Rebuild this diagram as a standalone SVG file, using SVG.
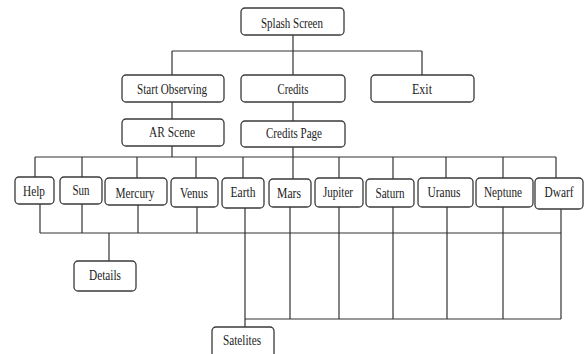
<svg xmlns="http://www.w3.org/2000/svg" width="584" height="354" viewBox="0 0 584 354">
<style>
.box{fill:#fff;stroke:#3a3a3a;stroke-width:1.3}
.lbl{font-family:"Liberation Serif","Times New Roman",serif;font-size:15px;fill:#222;text-anchor:middle}
.ln{fill:none;stroke:#333;stroke-width:1.2}
</style>
<rect width="584" height="354" fill="#fff"/>
<g id="connectors" class="ln">
<path d="M293 35V75M172 51H422M172 51V75M422 51V75"/>
<path d="M172 102V119M293 102V179M172 146V157M35 157H556"/>
<path d="M35 157V177M82 157V177M137 157V178M196 157V178M243 157V178M339 157V178M393 157V179M446 157V178M503 157V178M556 157V178"/>
<path d="M40 204V233M82 204V233M138 205V233M197 207V233M40 233H561M109 233V261"/>
<path d="M245 208V327M290 207V319M339 207V319M393 207V319M447 207V319M503 207V319M561 209V319M245 319H561"/>
</g>
<g id="splash"><rect class="box" x="241" y="8" width="103" height="27" rx="4"/><text class="lbl" x="292" y="28" textLength="62" lengthAdjust="spacingAndGlyphs">Splash Screen</text></g>
<g id="start"><rect class="box" x="122" y="75" width="102" height="27" rx="4"/><text class="lbl" x="172" y="94" textLength="70" lengthAdjust="spacingAndGlyphs">Start Observing</text></g>
<g id="credits"><rect class="box" x="241" y="75" width="104" height="27" rx="4"/><text class="lbl" x="293" y="94" textLength="31" lengthAdjust="spacingAndGlyphs">Credits</text></g>
<g id="exit"><rect class="box" x="371" y="75" width="103" height="27" rx="4"/><text class="lbl" x="422" y="94" textLength="20" lengthAdjust="spacingAndGlyphs">Exit</text></g>
<g id="arscene"><rect class="box" x="122" y="119" width="102" height="27" rx="4"/><text class="lbl" x="172" y="137" textLength="46" lengthAdjust="spacingAndGlyphs">AR Scene</text></g>
<g id="creditspage"><rect class="box" x="241" y="121" width="104" height="26" rx="4"/><text class="lbl" x="294" y="138" textLength="56" lengthAdjust="spacingAndGlyphs">Credits Page</text></g>
<g id="help"><rect class="box" x="15" y="177" width="39" height="27" rx="4"/><text class="lbl" x="34" y="196" textLength="22" lengthAdjust="spacingAndGlyphs">Help</text></g>
<g id="sun"><rect class="box" x="60" y="177" width="42" height="27" rx="4"/><text class="lbl" x="81" y="195" textLength="17" lengthAdjust="spacingAndGlyphs">Sun</text></g>
<g id="mercury"><rect class="box" x="105" y="178" width="62" height="27" rx="4"/><text class="lbl" x="135" y="198" textLength="39" lengthAdjust="spacingAndGlyphs">Mercury</text></g>
<g id="venus"><rect class="box" x="171" y="178" width="47" height="29" rx="4"/><text class="lbl" x="194" y="198" textLength="28" lengthAdjust="spacingAndGlyphs">Venus</text></g>
<g id="earth"><rect class="box" x="222" y="178" width="42" height="30" rx="4"/><text class="lbl" x="243" y="197" textLength="25" lengthAdjust="spacingAndGlyphs">Earth</text></g>
<g id="mars"><rect class="box" x="269" y="179" width="42" height="28" rx="4"/><text class="lbl" x="289" y="198" textLength="24" lengthAdjust="spacingAndGlyphs">Mars</text></g>
<g id="jupiter"><rect class="box" x="315" y="178" width="48" height="29" rx="4"/><text class="lbl" x="338" y="197" textLength="30" lengthAdjust="spacingAndGlyphs">Jupiter</text></g>
<g id="saturn"><rect class="box" x="366" y="179" width="48" height="28" rx="4"/><text class="lbl" x="390" y="198" textLength="29" lengthAdjust="spacingAndGlyphs">Saturn</text></g>
<g id="uranus"><rect class="box" x="418" y="178" width="55" height="29" rx="4"/><text class="lbl" x="444" y="197" textLength="33" lengthAdjust="spacingAndGlyphs">Uranus</text></g>
<g id="neptune"><rect class="box" x="476" y="178" width="57" height="29" rx="4"/><text class="lbl" x="503" y="197" textLength="38" lengthAdjust="spacingAndGlyphs">Neptune</text></g>
<g id="dwarf"><rect class="box" x="535" y="178" width="48" height="31" rx="4"/><text class="lbl" x="559" y="197" textLength="29" lengthAdjust="spacingAndGlyphs">Dwarf</text></g>
<g id="details"><rect class="box" x="74" y="261" width="62" height="30" rx="4"/><text class="lbl" x="105" y="280" textLength="32" lengthAdjust="spacingAndGlyphs">Details</text></g>
<g id="satelites"><rect class="box" x="212" y="327" width="62" height="34" rx="4"/><text class="lbl" x="242" y="345" textLength="38" lengthAdjust="spacingAndGlyphs">Satelites</text></g>
</svg>
